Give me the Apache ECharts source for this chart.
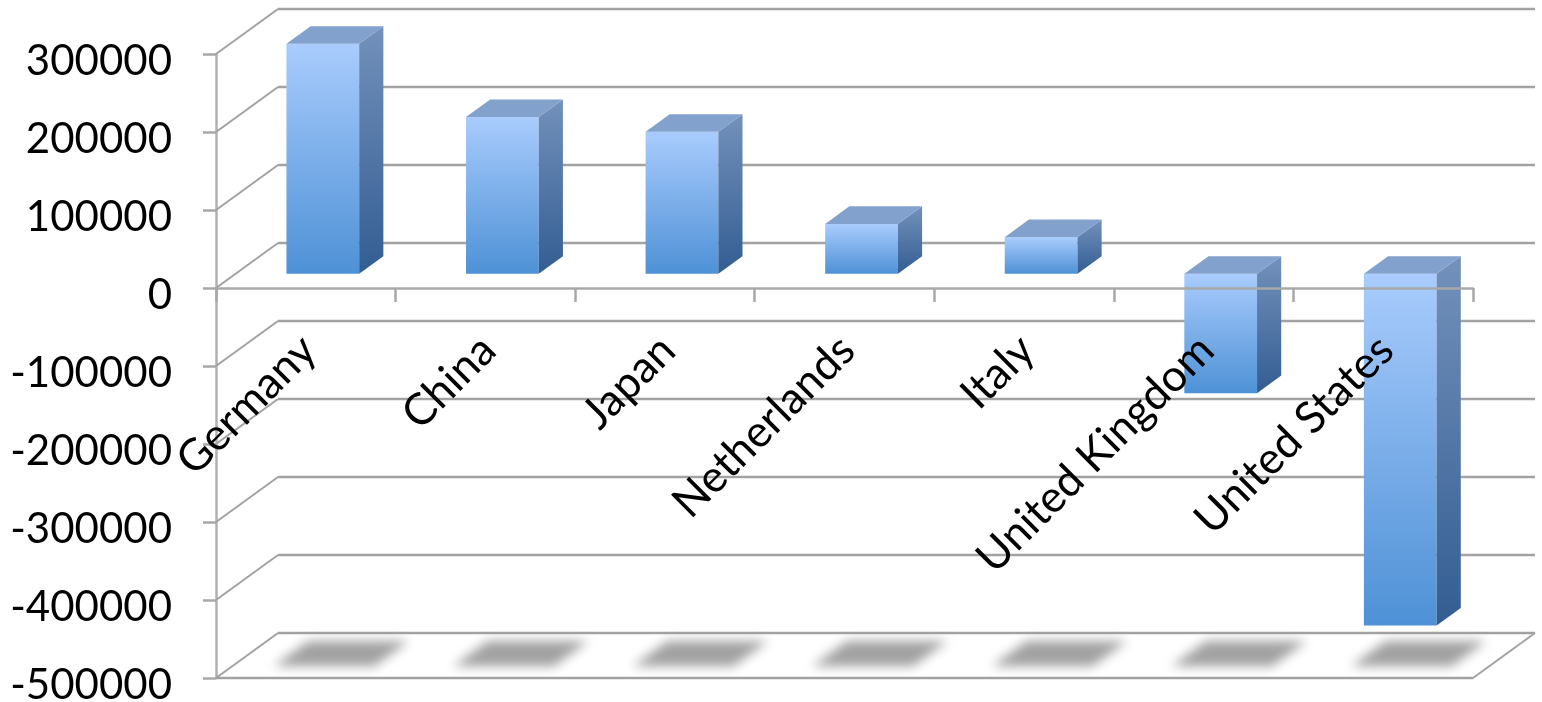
<!DOCTYPE html>
<html>
<head>
<meta charset="utf-8">
<script src="https://cdn.jsdelivr.net/npm/echarts@6/dist/echarts.min.js"></script>
<style>
html,body{margin:0;padding:0;background:#fff;}
#chart{width:1542px;height:702px;}
</style>
</head>
<body>
<div id="chart"></div>
<script>
var categories = ['Germany', 'China', 'Japan', 'Netherlands', 'Italy', 'United Kingdom', 'United States'];
var values = [295000, 201000, 182000, 64000, 47000, -153000, -451000];
var yTicks = [300000, 200000, 100000, 0, -100000, -200000, -300000, -400000, -500000];

var Y_MIN = Math.min.apply(null, yTicks);
var Y_MAX = Math.max.apply(null, yTicks);
var DX = 62, DY = -45;          // depth vector (front plane -> back wall)
var T0 = 0.315, T1 = 0.705;     // bar depth range
var GRID = '#a2a2a2';
var FONT = 'Lato';

var chart = echarts.init(document.getElementById('chart'), null, {renderer: 'canvas'});

function wallItem(params, api) {
  var cs = params.coordSys;
  var v = api.value(1);
  var y = api.coord([0, v])[1];
  var xl = cs.x, xr = cs.x + cs.width;
  var children = [
    {type: 'line', shape: {x1: xl + DX, y1: y + DY, x2: xr + DX, y2: y + DY},
     style: {stroke: GRID, lineWidth: 2.5}},
    {type: 'line', shape: {x1: xl, y1: y, x2: xl + DX, y2: y + DY},
     style: {stroke: GRID, lineWidth: 2}}
  ];
  if (v === Y_MIN) {
    children.push({type: 'line', shape: {x1: xl, y1: y, x2: xr, y2: y},
      style: {stroke: GRID, lineWidth: 2.5}});
    children.push({type: 'line', shape: {x1: xr, y1: y, x2: xr + DX, y2: y + DY},
      style: {stroke: GRID, lineWidth: 2}});
  }
  return {type: 'group', children: children};
}

function shadowItem(params, api) {
  var i = api.value(0);
  var c = api.coord([i, Y_MIN]);
  var band = api.size([1, 0])[0];
  var w = band * 0.56;
  var ta = 0.26, tb = 0.82;
  var cx = c[0] + 2;
  var OFF = 3000;
  var pts = [
    [cx - w / 2 + DX * ta - OFF, c[1] + DY * ta],
    [cx + w / 2 + DX * ta - OFF, c[1] + DY * ta],
    [cx + w / 2 + DX * tb - OFF, c[1] + DY * tb],
    [cx - w / 2 + DX * tb - OFF, c[1] + DY * tb]
  ];
  return {type: 'polygon', shape: {points: pts},
    style: {fill: '#a0a0a0', shadowBlur: 11, shadowOffsetX: OFF, shadowOffsetY: 0,
            shadowColor: '#a2a2a2'}};
}

function barItem(params, api) {
  var i = api.value(0), v = api.value(1);
  var c0 = api.coord([i, 0]);
  var c1 = api.coord([i, v]);
  var band = api.size([1, 0])[0];
  var w = band * 0.405;
  var fx = c0[0] + DX * T0 - 2.5 - w / 2;
  var ya = c0[1] + DY * T0, yb = c1[1] + DY * T0;
  var top = Math.min(ya, yb), bottom = Math.max(ya, yb);
  var dx = DX * (T1 - T0), dy = DY * (T1 - T0);
  return {type: 'group', children: [
    {type: 'rect', shape: {x: fx, y: top, width: w, height: bottom - top},
     style: {fill: new echarts.graphic.LinearGradient(0, 0, 0, 1, [
       {offset: 0, color: '#a9ccfd'}, {offset: 1, color: '#4e91d6'}])}},
    {type: 'polygon', shape: {points: [[fx + w, top], [fx + w + dx, top + dy], [fx + w + dx, bottom + dy], [fx + w, bottom]]},
     style: {fill: new echarts.graphic.LinearGradient(0, 0, 0, 1, [
       {offset: 0, color: '#7391bb'}, {offset: 1, color: '#335d92'}])}},
    {type: 'polygon', shape: {points: [[fx, top], [fx + w, top], [fx + w + dx, top + dy], [fx + dx, top + dy]]},
     style: {fill: '#82a1cd'}}
  ]};
}

function labelItem(params, api) {
  var i = api.value(0);
  var c = api.coord([i, 0]);
  return {type: 'text', x: c[0] + 3, y: c[1] + 55, rotation: Math.PI / 4,
    style: {text: categories[i], fontFamily: FONT, fontSize: 44, fill: '#000',
            align: 'right', verticalAlign: 'middle'}};
}

var option = {
  animation: false,
  backgroundColor: '#ffffff',
  grid: [{left: 216, right: 69, top: 54, bottom: 24, containLabel: false, outerBoundsMode: 'none'}],
  xAxis: [
    {type: 'category', data: categories, z: 10,
     axisLine: {onZero: true, lineStyle: {color: '#a8a8a8', width: 2.5}},
     axisTick: {show: true, length: 14, lineStyle: {color: '#a8a8a8', width: 2.5}},
     axisLabel: {show: false}, splitLine: {show: false}}
  ],
  yAxis: [
    {type: 'value', min: Y_MIN, max: Y_MAX, interval: 100000,
     axisLine: {show: true, lineStyle: {color: '#b0b0b0', width: 2.5}},
     axisTick: {show: true, length: 13, lineStyle: {color: '#a8a8a8', width: 2.5}},
     axisLabel: {margin: 44, fontFamily: FONT, fontSize: 42, color: '#000',
       verticalAlign: 'top', lineHeight: 14,
       formatter: function (v) { return String(v); }},
     splitLine: {show: false}}
  ],
  series: [
    {type: 'custom', name: 'walls', z: 1, silent: true,
     renderItem: wallItem, data: yTicks.map(function (v) { return [0, v]; })},
    {type: 'custom', name: 'shadows', z: 2, silent: true,
     renderItem: shadowItem, data: values.map(function (v, i) { return [i, v]; })},
    {type: 'custom', name: 'bars', z: 3,
     renderItem: barItem, data: values.map(function (v, i) { return [i, v]; })},
    {type: 'custom', name: 'labels', z: 4, silent: true,
     renderItem: labelItem, data: categories.map(function (c, i) { return [i, 0]; })}
  ]
};
chart.setOption(option);
</script>
</body>
</html>
